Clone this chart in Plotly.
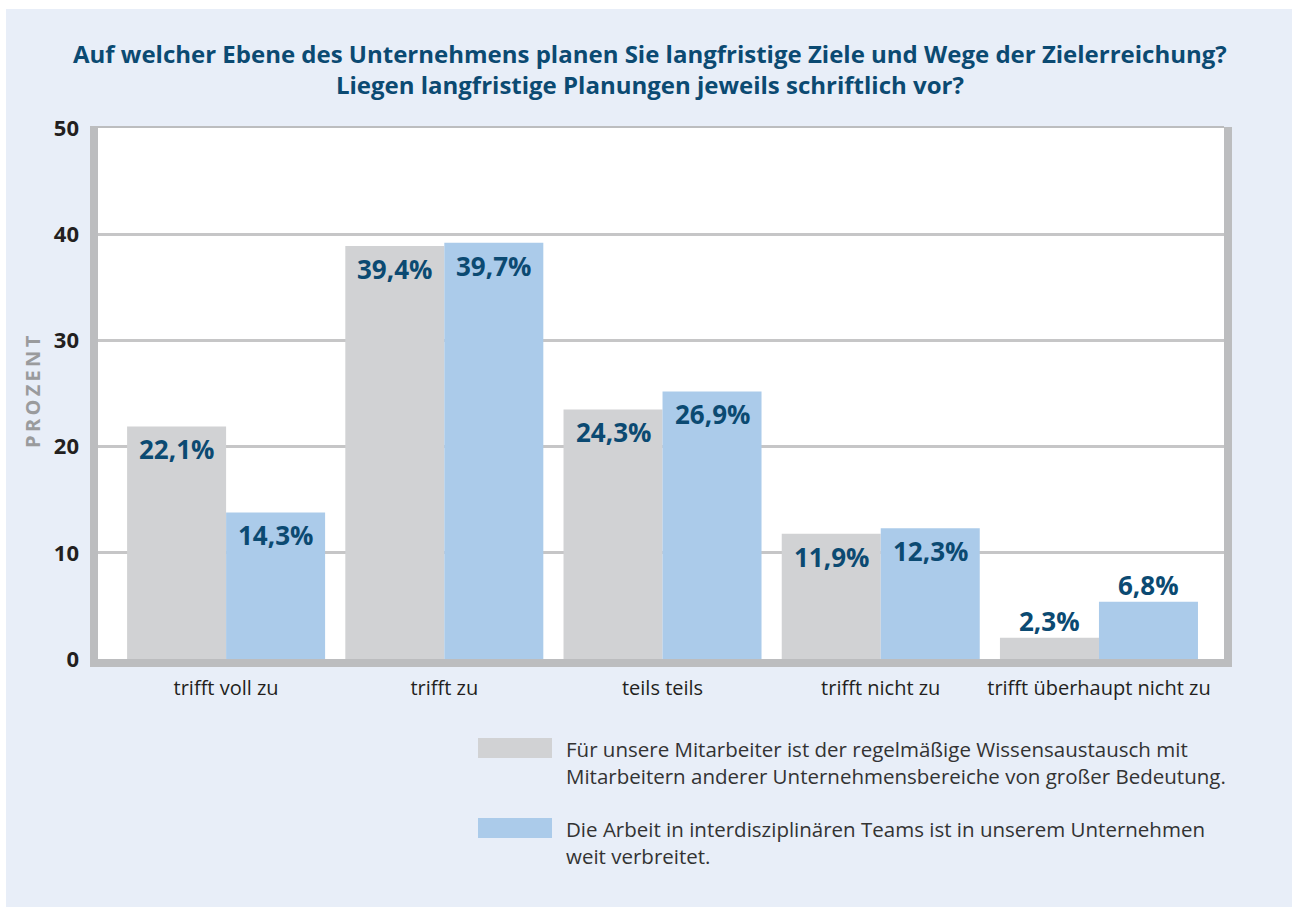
import plotly.graph_objects as go

# ---------------- data ----------------
categories = ["trifft voll zu", "trifft zu", "teils teils", "trifft nicht zu", "trifft überhaupt nicht zu"]
series_names = [
    "Für unsere Mitarbeiter ist der regelmäßige Wissensaustausch mit<br>Mitarbeitern anderer Unternehmensbereiche von großer Bedeutung.",
    "Die Arbeit in interdisziplinären Teams ist in unserem Unternehmen<br>weit verbreitet.",
]
grey_values = [21.9, 38.9, 23.5, 11.8, 2.0]
blue_values = [13.8, 39.2, 25.2, 12.3, 5.4]
grey_labels = ["22,1%", "39,4%", "24,3%", "11,9%", "2,3%"]
blue_labels = ["14,3%", "39,7%", "26,9%", "12,3%", "6,8%"]
y_ticks = [0, 10, 20, 30, 40, 50]

title_text = ("Auf welcher Ebene des Unternehmens planen Sie langfristige Ziele und Wege der Zielerreichung?"
              "<br>Liegen langfristige Planungen jeweils schriftlich vor?")
y_title = "PROZENT"

# ---------------- style ----------------
W, H = 1292, 907
ML, MR, MT, MB = 98, W - 1224, 128, H - 659
PW, PH = W - ML - MR, H - MT - MB
BG = "#e8eef8"
GREY = "#d1d2d4"
BLUE = "#abcbea"
FRAME = "#bcbdbf"
GRID = "#c6c6c7"
LABEL_C = "#0b4a72"
TEXT_C = "#231f20"
FONT = "Open Sans"
BARGAP = 0.0926
XR = [-0.587, 4.573]


def px_x(px):
    return (px - ML) / PW


def px_y(py):
    return (H - MB - py) / PH


x_idx = list(range(len(categories)))
fig = go.Figure()
fig.add_trace(go.Bar(x=x_idx, y=grey_values, name=series_names[0], marker=dict(color=GREY, line=dict(width=0)),
                     showlegend=False, hoverinfo="skip"))
fig.add_trace(go.Bar(x=x_idx, y=blue_values, name=series_names[1], marker=dict(color=BLUE, line=dict(width=0)),
                     showlegend=False, hoverinfo="skip"))

annotations = []
off = (1 - BARGAP) / 4
for vals, labs, sgn in ((grey_values, grey_labels, -1), (blue_values, blue_labels, 1)):
    for i, (v, t) in enumerate(zip(vals, labs)):
        inside = v >= 8
        annotations.append(dict(
            x=i + sgn * off, y=v, xref="x", yref="y", text=f"<b>{t}</b>", showarrow=False,
            xanchor="center", yanchor="middle", yshift=-23 if inside else 17,
            font=dict(family=FONT, size=26, color=LABEL_C)))

# title
annotations.append(dict(x=px_x(650), y=px_y(69), xref="paper", yref="paper", text=f"<b>{title_text}</b>",
                        showarrow=False, xanchor="center", yanchor="middle", align="center",
                        font=dict(family=FONT, size=24, color=LABEL_C)))
# y axis title
annotations.append(dict(x=px_x(32), y=px_y(392), xref="paper", yref="paper",
                        text="<b>" + "\u2009".join(y_title) + "</b>", textangle=-90, showarrow=False,
                        xanchor="center", yanchor="middle",
                        font=dict(family=FONT, size=20, color="#9a9b9d")))

# legend (custom)
shapes = []
legend_rows = [(738, GREY, series_names[0]), (818, BLUE, series_names[1])]
for top, col, name in legend_rows:
    shapes.append(dict(type="rect", xref="paper", yref="paper", x0=px_x(478), x1=px_x(552),
                       y0=px_y(top + 20), y1=px_y(top), fillcolor=col, line=dict(width=0), layer="above"))
    annotations.append(dict(x=px_x(564), y=px_y(top - 5), xref="paper", yref="paper", text=name,
                            showarrow=False, xanchor="left", yanchor="top", align="left",
                            font=dict(family=FONT, size=20.5, color="#333333")))

# background white border strips + frame
shapes += [
    dict(type="rect", xref="paper", yref="paper", x0=px_x(0), x1=px_x(W), y0=px_y(9), y1=px_y(0),
         fillcolor="white", line=dict(width=0), layer="below"),
    dict(type="rect", xref="paper", yref="paper", x0=px_x(0), x1=px_x(6), y0=px_y(H), y1=px_y(0),
         fillcolor="white", line=dict(width=0), layer="below"),
    # top line
    dict(type="rect", xref="paper", yref="paper", x0=px_x(90), x1=px_x(1224), y0=px_y(128), y1=px_y(126),
         fillcolor=FRAME, line=dict(width=0), layer="above"),
    # left bar
    dict(type="rect", xref="paper", yref="paper", x0=px_x(90), x1=px_x(98), y0=px_y(667), y1=px_y(126),
         fillcolor=FRAME, line=dict(width=0), layer="above"),
    # right bar
    dict(type="rect", xref="paper", yref="paper", x0=px_x(1224), x1=px_x(1232), y0=px_y(667), y1=px_y(127),
         fillcolor=FRAME, line=dict(width=0), layer="above"),
    # bottom bar
    dict(type="rect", xref="paper", yref="paper", x0=px_x(90), x1=px_x(1232), y0=px_y(667), y1=px_y(659),
         fillcolor=FRAME, line=dict(width=0), layer="above"),
]

fig.update_layout(
    width=W, height=H,
    margin=dict(l=ML, r=MR, t=MT, b=MB, pad=0),
    paper_bgcolor=BG, plot_bgcolor="white",
    barmode="group", bargap=BARGAP, bargroupgap=0,
    showlegend=False,
    annotations=annotations, shapes=shapes,
    xaxis=dict(range=XR, tickmode="array", tickvals=x_idx, ticktext=categories, showgrid=False,
               zeroline=False, showline=False, ticks="", ticklabelstandoff=15,
               tickfont=dict(family=FONT, size=20, color=TEXT_C), fixedrange=True),
    yaxis=dict(range=[0, 50], tickmode="array", tickvals=y_ticks, showgrid=True, gridcolor=GRID, gridwidth=2.5,
               zeroline=False, showline=False, ticks="", ticklabelstandoff=18,
               tickfont=dict(family=FONT, size=22, color=TEXT_C, weight="bold"), fixedrange=True),
)

fig.write_html("out.html", config={"displayModeBar": False},
               post_script="document.body.style.margin='0';document.body.style.overflow='hidden';")
